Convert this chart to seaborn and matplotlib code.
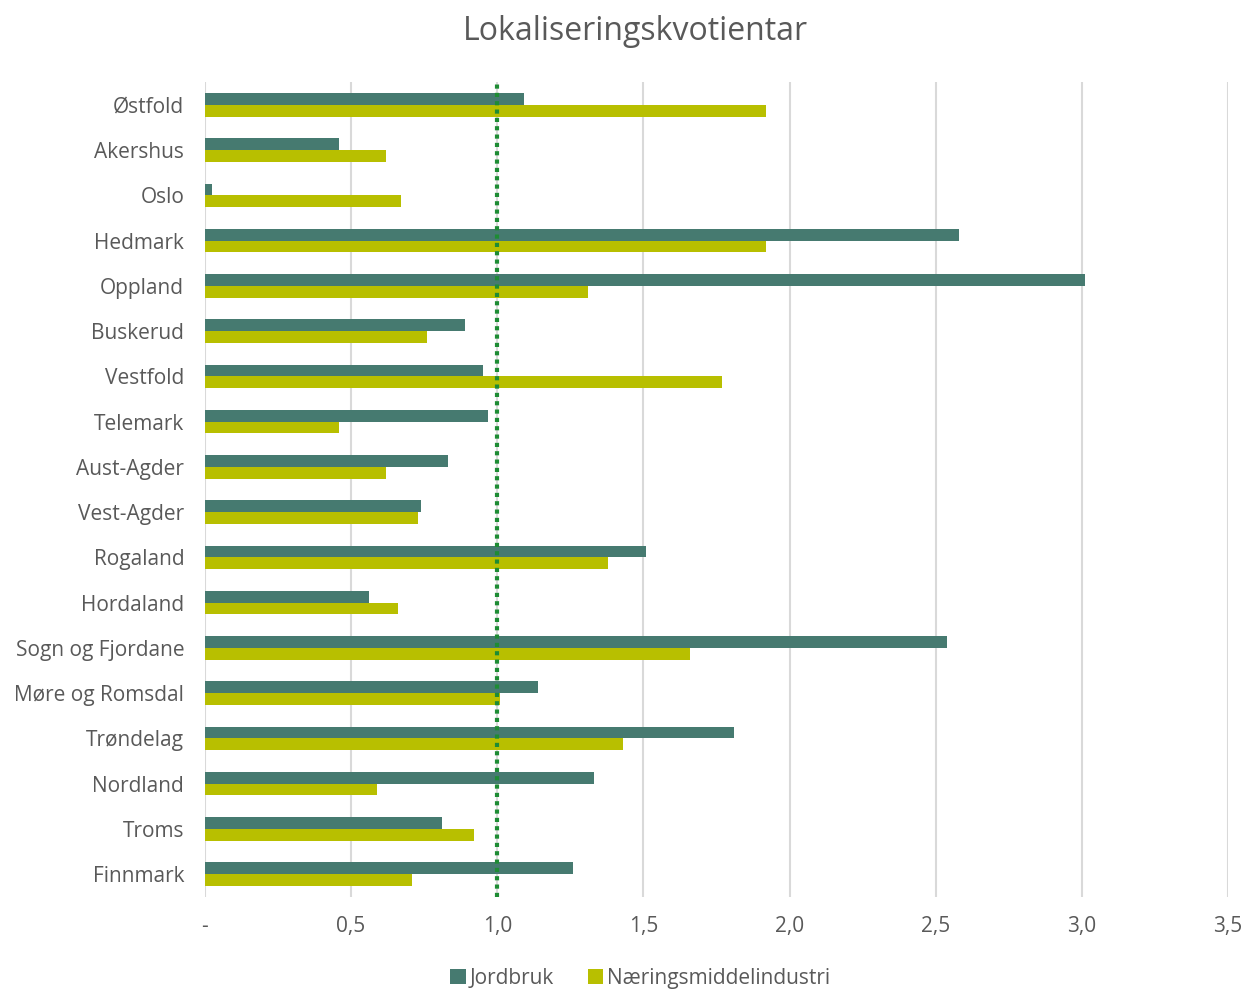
import numpy as np
import pandas as pd
import matplotlib
matplotlib.use('Agg')
import matplotlib.pyplot as plt
import seaborn as sns
from matplotlib.ticker import FuncFormatter

sns.set_style('white')
plt.rcParams['font.family'] = ['Open Sans', 'DejaVu Sans']

fylker = ['Østfold', 'Akershus', 'Oslo', 'Hedmark', 'Oppland', 'Buskerud',
          'Vestfold', 'Telemark', 'Aust-Agder', 'Vest-Agder', 'Rogaland',
          'Hordaland', 'Sogn og Fjordane', 'Møre og Romsdal', 'Trøndelag',
          'Nordland', 'Troms', 'Finnmark']
jordbruk = [1.09, 0.46, 0.025, 2.58, 3.01, 0.89, 0.95, 0.97, 0.83, 0.74,
            1.51, 0.56, 2.54, 1.14, 1.81, 1.33, 0.81, 1.26]
naering = [1.92, 0.62, 0.67, 1.92, 1.31, 0.76, 1.77, 0.46, 0.62, 0.73,
           1.38, 0.66, 1.66, 1.01, 1.43, 0.59, 0.92, 0.71]
series = ['Jordbruk', 'Næringsmiddelindustri']
colors = ['#467A70', '#B8BF00']

df = pd.DataFrame({'fylke': fylker * 2,
                   'verdi': jordbruk + naering,
                   'serie': [series[0]] * len(fylker) + [series[1]] * len(fylker)})

txt = '#595959'
fig = plt.figure(figsize=(12.46, 9.91), dpi=100)
ax = fig.add_axes([0.1645, 0.095, 0.821, 0.822])

sns.barplot(data=df, x='verdi', y='fylke', hue='serie', orient='h',
            palette=colors, saturation=1, width=0.52, linewidth=0,
            ax=ax, legend=True, zorder=3)

ax.set_xlim(0, 3.5)
ax.set_xticks(np.arange(0, 3.51, 0.5))
ax.xaxis.set_major_formatter(FuncFormatter(
    lambda v, p: '-' if abs(v) < 1e-9 else '{:.1f}'.format(v).replace('.', ',')))
ax.grid(axis='x', color='#D9D9D9', linewidth=1.5, zorder=0)
ax.set_axisbelow(True)
for s in ax.spines.values():
    s.set_visible(False)
ax.tick_params(axis='both', length=0, labelsize=15, labelcolor=txt)
ax.tick_params(axis='x', pad=14)
ax.tick_params(axis='y', pad=15)
ax.set_xlabel('')
ax.set_ylabel('')

# referanselinje ved 1,0
ax.axvline(1.0, color='#1E8C34', linestyle=(0, (1, 1)), linewidth=3, zorder=4)

fig.text(0.51, 0.968, 'Lokaliseringskvotientar', fontsize=23, color=txt,
         ha='center', va='center')

handles, labels = ax.get_legend_handles_labels()
ax.get_legend().remove()
fig.legend(handles, labels, loc='center', bbox_to_anchor=(0.514, 0.013), ncol=2,
           frameon=False, fontsize=15, labelcolor=txt, handlelength=0.75,
           handleheight=0.75, handletextpad=0.2, columnspacing=1.6,
           borderaxespad=0, borderpad=0)

fig.savefig('out.png', dpi=100)
